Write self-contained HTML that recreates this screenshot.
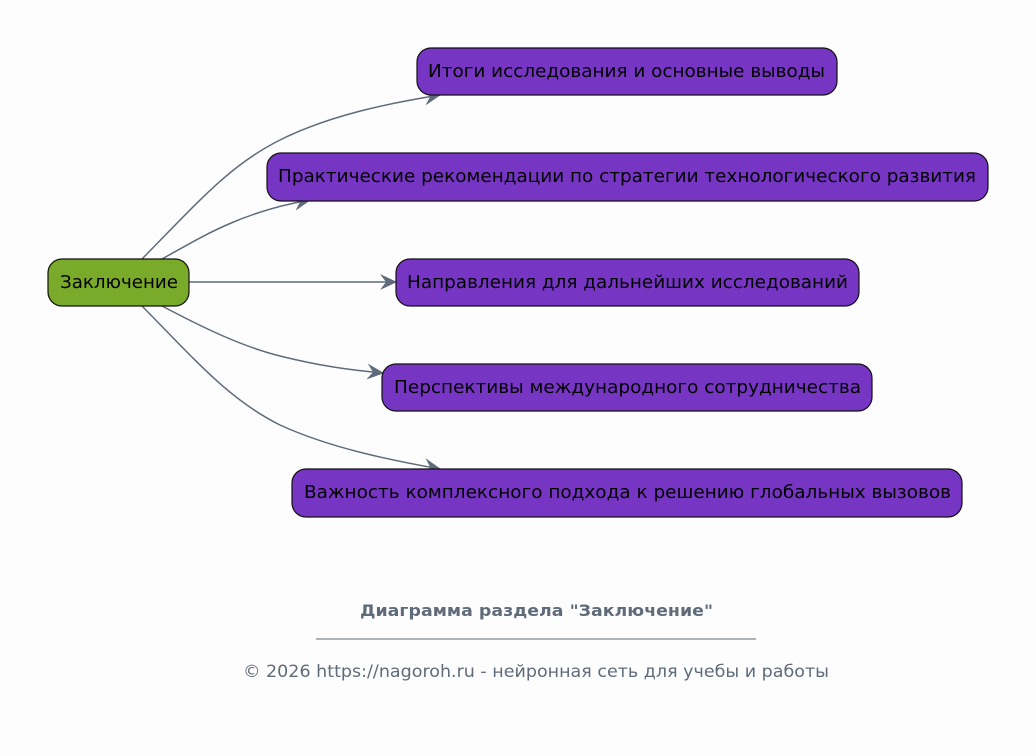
<!DOCTYPE html>
<html><head><meta charset="utf-8"><style>
html,body{margin:0;padding:0;background:#fdfdfd;}
svg{display:block;font-family:"DejaVu Sans","Liberation Sans",sans-serif;}
</style></head><body>
<svg width="1036" height="756" viewBox="0 0 1036 756">
<defs>
<marker id="a" markerWidth="20" markerHeight="20" refX="17" refY="10" orient="auto" markerUnits="userSpaceOnUse">
<path d="M1,2 L18,10 L1,18 L7,10 z" fill="#5f6b7a"/>
</marker>
</defs>
<g fill="none" stroke="#5f6b7a" stroke-width="1.5">
<path d="M142,259 C200,200 230,165 280,140 C330,115 390,103 440,95" marker-end="url(#a)"/>
<path d="M162,259 C200,238 240,212 310,200" marker-end="url(#a)"/>
<path d="M189,282 L396,282" marker-end="url(#a)"/>
<path d="M162,306 C200,326 240,346 280,356 C320,366 350,370 383,373" marker-end="url(#a)"/>
<path d="M142,306 C200,365 230,400 280,425 C330,448 390,460 440,469" marker-end="url(#a)"/>
</g>
<g stroke="#111" stroke-width="1.2">
<rect x="48" y="259" width="141" height="47" rx="14" fill="#7aaa2a"/>
<rect x="417" y="48" width="420" height="47" rx="14" fill="#7735c4"/>
<rect x="267" y="153" width="721" height="48" rx="14" fill="#7735c4"/>
<rect x="396" y="259" width="463" height="47" rx="14" fill="#7735c4"/>
<rect x="382" y="364" width="490" height="47" rx="14" fill="#7735c4"/>
<rect x="292" y="469" width="670" height="48" rx="14" fill="#7735c4"/>
</g>
<g font-size="18" fill="#000">
<text x="60" y="288" textLength="118" lengthAdjust="spacingAndGlyphs">Заключение</text>
<text x="428" y="77" textLength="397" lengthAdjust="spacingAndGlyphs">Итоги исследования и основные выводы</text>
<text x="278" y="182" textLength="698" lengthAdjust="spacingAndGlyphs">Практические рекомендации по стратегии технологического развития</text>
<text x="407" y="288" textLength="441" lengthAdjust="spacingAndGlyphs">Направления для дальнейших исследований</text>
<text x="394" y="393" textLength="467" lengthAdjust="spacingAndGlyphs">Перспективы международного сотрудничества</text>
<text x="304" y="498" textLength="647" lengthAdjust="spacingAndGlyphs">Важность комплексного подхода к решению глобальных вызовов</text>
</g>
<text x="360" y="616" font-size="16" font-weight="bold" fill="#5f6b7a" textLength="353" lengthAdjust="spacingAndGlyphs">Диаграмма раздела "Заключение"</text>
<line x1="316" y1="639" x2="756" y2="639" stroke="#5f6b7a" stroke-width="1"/>
<text x="243" y="677" font-size="17" fill="#5f6b7a" textLength="586" lengthAdjust="spacingAndGlyphs">© 2026 https://nagoroh.ru - нейронная сеть для учебы и работы</text>
</svg>
</body></html>
